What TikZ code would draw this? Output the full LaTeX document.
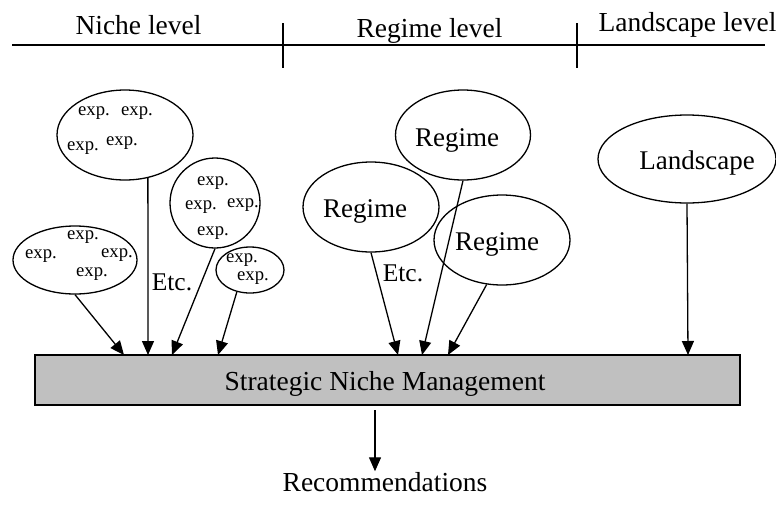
\documentclass[tikz,border=0pt]{standalone}
\usepackage{fontspec}
\setmainfont{Liberation Serif}
\usetikzlibrary{shapes.geometric,arrows.meta}
\definecolor{boxgray}{RGB}{192,192,192}
\begin{document}
\begin{tikzpicture}[x=1pt,y=-1pt,
  line width=1.3pt,
  bubble/.style={draw,ellipse,inner sep=0pt,line width=1.3pt},
  lbl/.style={inner sep=0pt,font=\fontsize{27.5}{30}\selectfont},
  explbl/.style={inner sep=0pt,font=\fontsize{18.7}{20}\selectfont},
  etclbl/.style={inner sep=0pt,font=\fontsize{25.5}{28}\selectfont},
  feed/.style={-{Triangle[length=14pt,width=12pt]},line width=1.3pt}]
\useasboundingbox (0,0) rectangle (776,512);

% level header
\coordinate (hl) at (12,45);
\coordinate (hr) at (765,45);
\coordinate (d1t) at (283,23);
\coordinate (d1b) at (283,68);
\coordinate (d2t) at (577,23);
\coordinate (d2b) at (577,68);
\draw (hl) -- (hr);
\draw (d1t) -- (d1b);
\draw (d2t) -- (d2b);
\node[lbl,anchor=base] (lvniche) at (138.5,34) {Niche level};
\node[lbl,anchor=base] (lvregime) at (429.5,37) {Regime level};
\node[lbl,anchor=base] (lvland) at (687.5,31) {Landscape level};

% central box
\node[draw,fill=boxgray,minimum width=705pt,minimum height=50pt,inner sep=0pt] (snm) at (387.5,380) {};
\node[lbl,anchor=base] (snmtext) at (385,390) {Strategic Niche Management};

% niche experiments
\node[bubble,minimum width=136pt,minimum height=90pt] (n1) at (125,135) {};
\node[explbl] at (94,113) {exp.};
\node[explbl] at (137,113) {exp.};
\node[explbl] at (83,148) {exp.};
\node[explbl] at (122,143) {exp.};

\node[bubble,minimum width=90pt,minimum height=90pt] (n2) at (215,203) {};
\node[explbl] at (213,183) {exp.};
\node[explbl] at (201,207) {exp.};
\node[explbl] at (243,205) {exp.};
\node[explbl] at (213,233) {exp.};

\node[bubble,minimum width=124pt,minimum height=68pt] (n3) at (75,260) {};
\node[explbl] at (83,237) {exp.};
\node[explbl] at (41,256) {exp.};
\node[explbl] at (117,255) {exp.};
\node[explbl] at (92,274) {exp.};

\node[bubble,minimum width=68pt,minimum height=46pt] (n4) at (250,270) {};
\node[explbl] at (242,260) {exp.};
\node[explbl] at (253,278) {exp.};

\node[etclbl] (etc1) at (172,282) {Etc.};

% regimes
\node[bubble,minimum width=135pt,minimum height=90pt] (r1) at (463,135) {};
\node[lbl,font=\fontsize{27}{30}\selectfont] at (457,140) {Regime};
\node[bubble,minimum width=136pt,minimum height=90pt] (r2) at (371,207) {};
\node[lbl,font=\fontsize{27}{30}\selectfont] at (365,211) {Regime};
\node[bubble,minimum width=136pt,minimum height=90pt] (r3) at (502,240) {};
\node[lbl,font=\fontsize{27}{30}\selectfont] at (497,244) {Regime};
\node[etclbl] (etc2) at (403,273) {Etc.};

% landscape
\node[bubble,minimum width=178pt,minimum height=88pt] (l1) at (687,159) {};
\node[lbl,font=\fontsize{27}{30}\selectfont] at (697,163) {Landscape};

% entry points on the box
\coordinate (t1) at (124,355);
\coordinate (t2) at (148,355);
\coordinate (t3) at (172,355);
\coordinate (t4) at (218,355);
\coordinate (t5) at (398,355);
\coordinate (t6) at (422,355);
\coordinate (t7) at (448,355);
\coordinate (t8) at (688,355);

\draw[feed] (n3.south) -- (t1);
\draw[feed] (n1.-62) -- (t2);
\draw[feed] (n2.south) -- (t3);
\draw[feed] (n4.-121) -- (t4);
\draw[feed] (r2.south) -- (t5);
\draw[feed] (r1.south) -- (t6);
\draw[feed] (r3.-109) -- (t7);
\draw[feed] (l1.south) -- (t8);

% output
\coordinate (out) at (375,410);
\node[lbl,anchor=base] (rec) at (385,491) {Recommendations};
\draw[feed] (out) -- (rec.north -| out);
\end{tikzpicture}
\end{document}
